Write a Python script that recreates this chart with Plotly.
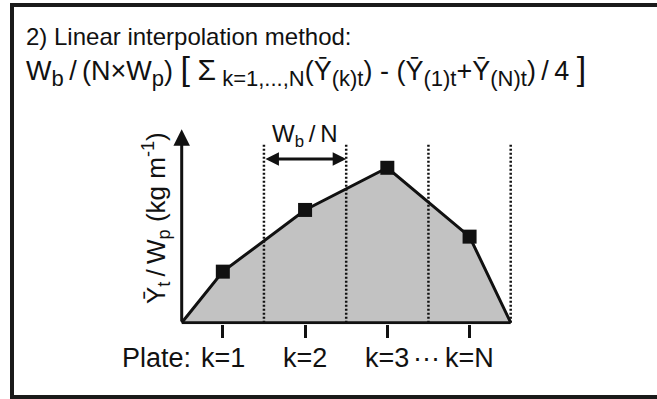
import plotly.graph_objects as go

# ---- data ----
plate_x = [0.5, 1.5, 2.5, 3.5]          # plate centres k=1..N
plate_y = [2.64, 5.83, 8.01, 4.45]      # Ybar_t / W_p at each plate
edge_x = [0.0, 4.0]                     # bed edges (profile goes to zero)
edge_y = [0.0, 0.0]
boundary_x = [1, 2, 3, 4]               # plate boundaries (dotted)
boundary_top = 9.28
tick_labels = ["k=1", "k=2", "k=3", "k=N"]
span_x = [1, 2]                         # W_b / N arrow span
span_y = 8.46
axis_top = 10

W, H = 657, 399
X0PX, UX = 181.7, 82.25      # pixel of x=0, px per unit
Y0PX, UY = 322.7, 19.34      # pixel of y=0, px per unit
XR = [-0.1, 4.1]
YR = [-0.08, 10.6]
xdom = [(X0PX + XR[0] * UX) / W, (X0PX + XR[1] * UX) / W]
ydom = [1 - (Y0PX - YR[0] * UY) / H, 1 - (Y0PX - YR[1] * UY) / H]

FONT = "Liberation Sans, Arial, sans-serif"
INK = "#111111"
SL = "\u2009/\u2009"   # slash with thin spaces (wide fraction slash look)

prof_x = [edge_x[0]] + plate_x + [edge_x[1]]
prof_y = [edge_y[0]] + plate_y + [edge_y[1]]

dx, dy = [], []
for bx in boundary_x:
    dx += [bx, bx, None]
    dy += [0, boundary_top, None]

fig = go.Figure()
fig.add_trace(go.Scatter(x=prof_x, y=prof_y, mode="lines", fill="tozeroy",
                         fillcolor="#c2c2c2", line=dict(color=INK, width=3),
                         hoverinfo="skip"))
fig.add_trace(go.Scatter(x=dx, y=dy, mode="lines",
                         line=dict(color=INK, width=2.5, dash="2px,2px"),
                         hoverinfo="skip"))
fig.add_trace(go.Scatter(x=edge_x, y=edge_y, mode="lines",
                         line=dict(color=INK, width=3), hoverinfo="skip"))
fig.add_trace(go.Scatter(x=plate_x, y=plate_y, mode="markers",
                         marker=dict(symbol="square", size=14, color=INK),
                         hoverinfo="skip", cliponaxis=False))


def txt(text, x, y, size, xref="paper", yref="paper", xanchor="center",
        yanchor="middle", **kw):
    return dict(text=text, x=x, y=y, xref=xref, yref=yref, xanchor=xanchor,
                yanchor=yanchor, showarrow=False,
                font=dict(size=size, family=FONT, color=INK), **kw)


ann = []
# y-axis arrow
ann.append(dict(x=0, y=axis_top, ax=0, ay=0, xref="x", yref="y", axref="x", ayref="y",
                text="", showarrow=True, arrowhead=2, arrowsize=1.1, arrowwidth=3,
                arrowcolor=INK))
# W_b/N double arrow
ann.append(dict(x=span_x[1], y=span_y, ax=span_x[0], ay=span_y, xref="x", yref="y",
                axref="x", ayref="y", text="", showarrow=True, arrowside="end+start",
                arrowhead=2, startarrowhead=2, arrowsize=0.9, startarrowsize=0.9,
                arrowwidth=3, arrowcolor=INK))
ann.append(txt("W<sub>b</sub>" + SL + "N", sum(span_x) / 2, 9.7, 24, xref="x", yref="y"))
# y label
ann.append(txt("Ȳ<sub>t</sub>" + SL + "W<sub>p</sub> (kg m<sup>-1</sup>)", 156 / W,
               1 - 218 / H, 26, textangle=-90))
# title lines
ann.append(txt("2) Linear interpolation method:", 24 / W, 1 - 37 / H, 24,
               xanchor="left"))
S = "<span style='font-size:22px'>"
line2 = ("W<sub>" + S + "b</span></sub>" + SL + "(N×W<sub>" + S + "p</span></sub>) "
         "<span style='font-size:34px'>[</span> "
         "<span style='font-size:30px'>Σ</span><sub>" + S + " k=1,...,N</span></sub>"
         "(Ȳ<sub>" + S + "(k)t</span></sub>) - "
         "(Ȳ<sub>" + S + "(1)t</span></sub>+Ȳ<sub>" + S + "(N)t</span></sub>)" + SL + "4 "
         "<span style='font-size:34px'>]</span>")
ann.append(txt(line2, 24 / W, 1 - 70 / H, 27, xanchor="left"))
# bottom labels
for px_, lab in zip(plate_x, tick_labels):
    ann.append(txt(lab, px_, 1 - 357.5 / H, 27, xref="x"))
ann.append(txt("Plate:", 0.14, 1 - 357.5 / H, 27, xref="x", xanchor="right"))
ann.append(txt("···", 2.98, 1 - 357.5 / H, 27, xref="x"))

fig.update_layout(
    width=W, height=H, margin=dict(l=0, r=0, t=0, b=0),
    paper_bgcolor="white", plot_bgcolor="rgba(0,0,0,0)", showlegend=False,
    annotations=ann,
    shapes=[dict(type="rect", xref="paper", yref="paper", x0=12 / W, x1=1.05,
                 y0=1 - 397 / H, y1=1 - 5 / H, line=dict(color="#1a1a1a", width=4),
                 layer="above")],
    xaxis=dict(domain=xdom, range=XR, tickvals=plate_x, ticktext=tick_labels,
               showticklabels=False, ticks="outside", ticklen=13, tickwidth=3,
               tickcolor=INK, showline=False, showgrid=False, zeroline=False,
               fixedrange=True),
    yaxis=dict(domain=ydom, range=YR, showticklabels=False, ticks="", showline=False,
               showgrid=False, zeroline=False, fixedrange=True),
)
fig.write_html("out.html")
